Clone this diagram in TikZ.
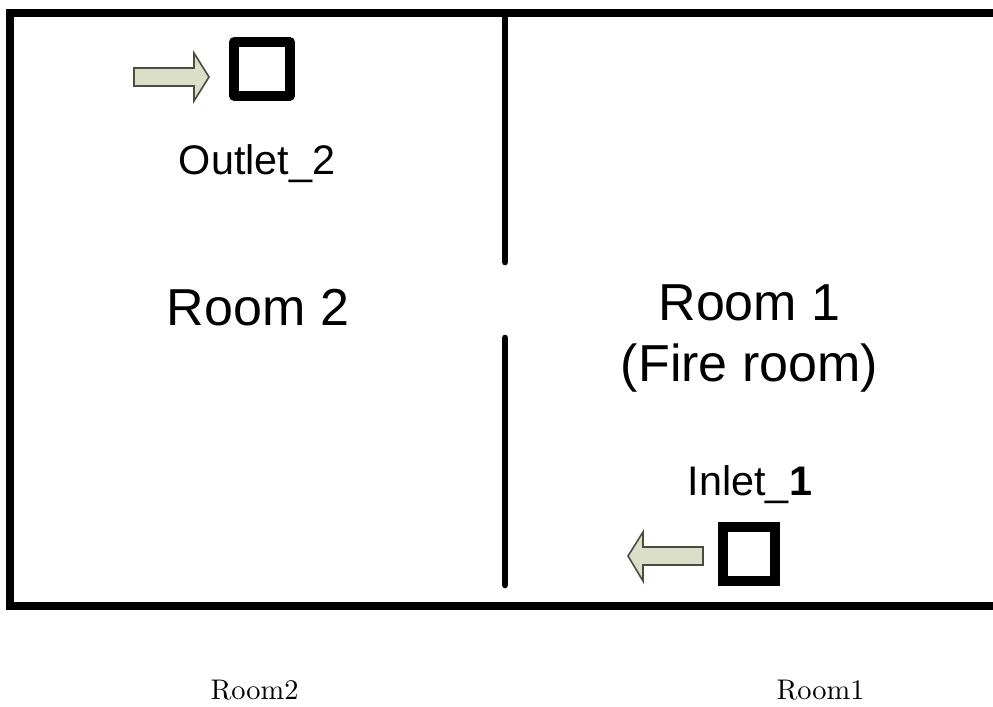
\documentclass[tikz,border=0pt]{standalone}
\usepackage{fontspec}
\setmainfont{Liberation Sans}
\newfontfamily\capfont{lmroman10-regular.otf}
\definecolor{arrowfill}{HTML}{DBDFC8}
\definecolor{arrowline}{HTML}{4A4D40}
\tikzset{
  x=0.75pt,y=-0.75pt,
  wall/.style={line width=6.6pt,black},
  partition/.style={line width=5pt,black,line cap=round},
  port/.style={line width=7pt,black},
  flow/.style={draw=arrowline,fill=arrowfill,line width=1.2pt,line join=miter},
  label/.style={inner sep=0pt,anchor=base,text=black},
  big/.style={label,font=\fontsize{39}{45.75}\selectfont,align=center},
  small/.style={label,font=\fontsize{31}{37}\selectfont},
  caption/.style={label,font=\capfont\fontsize{21.3}{25}\selectfont}
}
\begin{document}
\begin{tikzpicture}
\useasboundingbox (0,0) rectangle (993,707);
\path[fill=white] (0,0) rectangle (993,707);
\coordinate (tr) at (993,13);
\coordinate (tl) at (10,13);
\coordinate (bl) at (10,606);
\coordinate (br) at (993,606);
\coordinate (w1a) at (505,15);
\coordinate (w1b) at (505,262);
\coordinate (w2a) at (505,338);
\coordinate (w2b) at (505,585);
\draw[wall,line join=miter] (tr) -- (tl) -- (bl) -- (br);
\draw[partition] (w1a) -- (w1b);
\draw[partition] (w2a) -- (w2b);
\draw[port,line join=round] (234,42) rectangle (290,96);
\draw[port,line join=miter] (723,527) rectangle (775,581);
\draw[flow] (134,68) -- (194,68) -- (194,53) -- (209,77) -- (194,101) -- (194,86) -- (134,86) -- cycle;
\draw[flow] (703,547) -- (643,547) -- (643,532) -- (628,556) -- (643,581) -- (643,565) -- (703,565) -- cycle;
\node[small] (outlet) at (257,174) {Outlet\_2};
\node[big] (room2) at (258,325) {Room 2};
\node[big,anchor=center] (room1) at (749.5,338.5) {Room 1\\(Fire room)};
\node[small] (inlet) at (750,495) {Inlet\_\textbf{1}};
\node[caption] (cap2) at (254.5,699) {Room2};
\node[caption] (cap1) at (820.5,699) {Room1};
\end{tikzpicture}
\end{document}
